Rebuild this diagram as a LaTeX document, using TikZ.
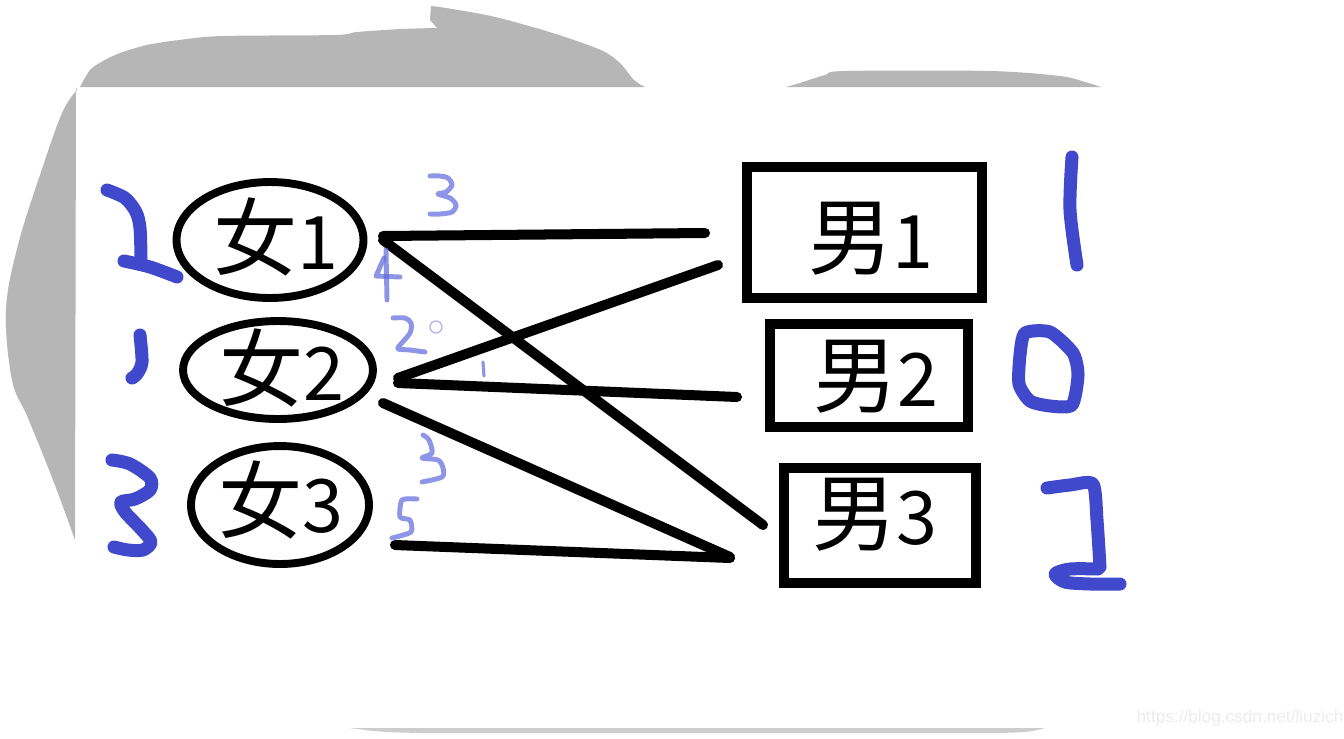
\documentclass[tikz,border=0pt]{standalone}
\usepackage{fontspec}
\newfontfamily\cjk{Noto Sans CJK SC}
\setmainfont{Liberation Sans}
\usetikzlibrary{shapes.geometric,calc}
\definecolor{bggray}{RGB}{181,182,181}
\definecolor{lowgray}{RGB}{205,205,205}
\definecolor{penblue}{RGB}{64,72,204}
\definecolor{paleblue}{RGB}{95,105,220}
\definecolor{markgray}{RGB}{236,236,236}
\newcommand{\dg}[1]{{\fontsize{42}{50}\selectfont #1}}
\tikzset{
  fnode/.style={ellipse, draw, line width=4.5pt, inner sep=0pt, outer sep=0pt},
  mnode/.style={rectangle, draw, line width=5.7pt, inner sep=0pt, outer sep=0pt},
  lbl/.style={font=\cjk\fontsize{48}{56}\selectfont, inner sep=0pt},
  link/.style={line width=5.7pt, line cap=round},
  bluepen/.style={draw=penblue, line width=7.4pt, line cap=round, line join=round},
  pale/.style={draw=paleblue, line width=2.8pt, line cap=round, line join=round, opacity=0.7},
}
\begin{document}
\begin{tikzpicture}[x=0.02cm,y=-0.02cm]
\useasboundingbox (0,0) rectangle (1344,738);
\fill[white] (0,0) rectangle (1344,738);
% grey background blobs
\fill[bggray] plot[smooth, tension=0.5] coordinates {(80,87) (90,70) (103,61) (120,53) (147,45) (179,40) (223,36) (335,35) (357,32) (402,29) (437,28)}
  -- (430,20) -- (431,6)
  -- plot[smooth, tension=0.5] coordinates {(431,6) (446,8) (491,16) (536,28) (571,39) (603,51) (620,63) (634,80) (645,87)} -- cycle;
\fill[bggray] (76,87) -- plot[smooth, tension=0.6] coordinates {(77,90) (62,113) (40,175) (18,245) (6,310) (12,380) (28,418) (53,480) (75,540)} -- cycle;
\fill[bggray] plot[smooth, tension=0.5] coordinates {(786,87) (800,83) (825,75) (845,71) (990,71) (1060,76) (1085,82) (1101,87)} -- cycle;
\fill[lowgray] (350,728) -- (1045,728) .. controls (1030,732) .. (1000,733) -- (420,733) .. controls (380,732) .. (350,728) -- cycle;
% women
\node[fnode, minimum width=3.74cm, minimum height=2.32cm] (w1) at (270,240) {};
\node[fnode, minimum width=3.80cm, minimum height=1.96cm] (w2) at (278,370) {};
\node[fnode, minimum width=3.56cm, minimum height=2.36cm] (w3) at (280,505) {};
\node[lbl] (t1) at (276,237) {女\dg{1}};
\node[lbl] (t2) at (282,368) {女\dg{2}};
\node[lbl] (t3) at (281,500) {女\dg{3}};
% men
\node[mnode, minimum width=4.70cm, minimum height=2.62cm] (m1) at (864.5,232.5) {};
\node[mnode, minimum width=3.96cm, minimum height=2.06cm] (m2) at (869,375.5) {};
\node[mnode, minimum width=3.84cm, minimum height=2.30cm] (m3) at (880,525.5) {};
\node[lbl] (u1) at (871,239) {男\dg{1}};
\node[lbl] (u2) at (876,377) {男\dg{2}};
\node[lbl] (u3) at (875,515) {男\dg{3}};
% links
\draw[link] ($(w1.east)+(19.5,-4)$) -- ($(m1.west)+(-42,0.5)$);
\draw[link] ($(w1.east)+(19.5,0)$) -- ($(m3.west)+(-21,-0.5)$);
\draw[link] ($(w2.east)+(25,8)$) -- ($(m1.west)+(-29,32.5)$);
\draw[link] ($(w2.east)+(25,13)$) -- ($(m2.west)+(-33,21.5)$);
\draw[link] ($(w2.east)+(10,33)$) -- ($(m3.west)+(-54,31.5)$);
\draw[link] ($(w3.east)+(26,40)$) -- ($(m3.west)+(-54,32.5)$);
% thick blue handwriting
\draw[bluepen] plot[smooth] coordinates {(107,190) (125,198) (136,212) (140,228) (141,258)};
\draw[bluepen] plot[smooth] coordinates {(124,261) (150,267) (177,277)};
\draw[bluepen] plot[smooth] coordinates {(140,335) (142,362) (137,374) (132,378)};
\draw[bluepen] plot[smooth] coordinates {(112,460) (130,464) (150,478) (150,490) (135,499) (121,502) (125,512) (142,530) (151,542) (143,550) (128,550) (114,547)};
\draw[bluepen] plot[smooth] coordinates {(1072,157) (1070,210) (1077,265)};
\draw[bluepen] plot[smooth cycle, tension=0.4] coordinates {(1025,333) (1050,332) (1073,353) (1078,375) (1072,405) (1050,406) (1030,401) (1019,384) (1020,355)};
\draw[bluepen] plot[smooth, tension=0.4] coordinates {(1047,488) (1070,485) (1093,484) (1097,520) (1100,567)};
\draw[bluepen] plot[smooth, tension=0.5] coordinates {(1098,569) (1070,569) (1055,574) (1065,582) (1090,584) (1120,584)};
% pale thin handwriting
\draw[pale] plot[smooth] coordinates {(430,176) (440,176) (448,178) (452,185) (446,192) (438,194) (450,198) (456,205) (452,212) (440,214) (430,214)};
\draw[pale] (386,250) -- (387,300);
\draw[pale] (384,258) -- (376,276) -- (400,277);
\draw[pale] plot[smooth] coordinates {(393,318) (405,318) (411,323) (410,333) (400,345) (398,349) (410,350) (425,352)};
\draw[draw=paleblue, opacity=0.5, line width=0.7pt] (436,327) circle[radius=6];
\draw[pale, line width=1.8pt] (483,362) -- (484,376);
\draw[pale] plot[smooth] coordinates {(423,435) (429,440) (432,453) (422,458) (438,460) (443,468) (442,477) (422,482)};
\draw[pale] plot[smooth, tension=0.4] coordinates {(417,499) (402,500) (400,517) (410,520) (411,532) (392,538)};
% watermark
\node[font=\fontsize{9.8}{11}\selectfont, text=markgray, inner sep=0pt] (wm) at (1240,718) {https://blog.csdn.net/liuzich};
\end{tikzpicture}
\end{document}
